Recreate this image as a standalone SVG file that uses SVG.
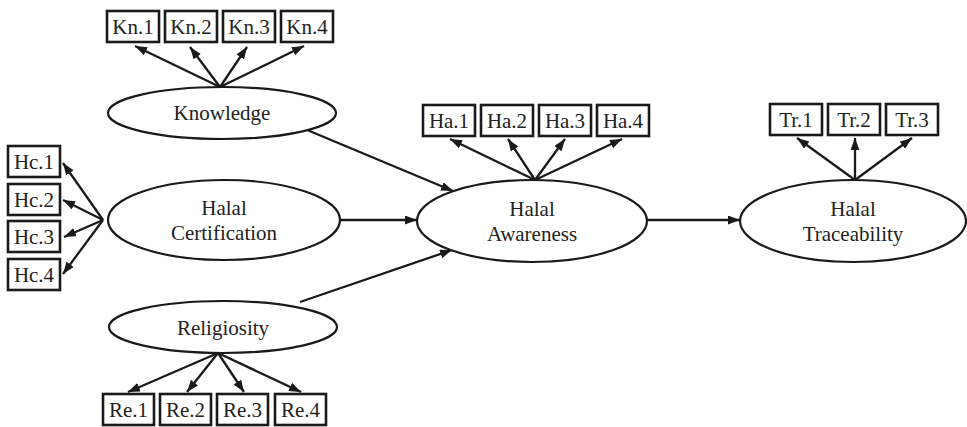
<svg xmlns="http://www.w3.org/2000/svg" width="967" height="427" viewBox="0 0 967 427">
<style>
.bg{fill:#ffffff}
.box{fill:#ffffff;stroke:#1a1a1a;stroke-width:2.6}
.ell{fill:#ffffff;stroke:#1a1a1a;stroke-width:2.2}
.lbl{font-family:"Liberation Serif","Times New Roman",serif;font-size:21px;fill:#222222;text-anchor:middle}
.con line{stroke:#1a1a1a;stroke-width:2.3;marker-end:url(#ah)}
</style>
<defs>
<marker id="ah" markerUnits="userSpaceOnUse" markerWidth="13" markerHeight="10" refX="12" refY="4.5" orient="auto">
<path d="M0,0 L12,4.5 L0,9 z" fill="#1a1a1a"/>
</marker>
</defs>
<rect class="bg" x="0" y="0" width="967" height="427"/>
<g id="connectors" class="con">
<line x1="220" y1="87" x2="135" y2="46"/>
<line x1="220" y1="87" x2="190" y2="47"/>
<line x1="220" y1="87" x2="247" y2="47"/>
<line x1="220" y1="87" x2="304" y2="46"/>
<line x1="103" y1="220" x2="63" y2="163"/>
<line x1="103" y1="220" x2="63" y2="200"/>
<line x1="103" y1="220" x2="64" y2="237"/>
<line x1="103" y1="220" x2="63" y2="274"/>
<line x1="218" y1="353" x2="128" y2="392"/>
<line x1="218" y1="353" x2="187" y2="392"/>
<line x1="218" y1="353" x2="244" y2="392"/>
<line x1="218" y1="353" x2="301" y2="392"/>
<line x1="535" y1="180" x2="450" y2="139"/>
<line x1="535" y1="180" x2="508" y2="139"/>
<line x1="535" y1="180" x2="565" y2="139"/>
<line x1="535" y1="180" x2="622" y2="139"/>
<line x1="855" y1="180" x2="797" y2="138"/>
<line x1="855" y1="180" x2="855" y2="138"/>
<line x1="855" y1="180" x2="912" y2="138"/>
<line x1="300" y1="127" x2="453" y2="191"/>
<line x1="340" y1="220" x2="417" y2="220"/>
<line x1="300" y1="302" x2="452" y2="250"/>
<line x1="647" y1="220" x2="740" y2="220"/>
</g>
<g id="knowledge"><ellipse class="ell" cx="222" cy="113" rx="114" ry="26"/><text class="lbl" x="222" y="120">Knowledge</text></g>
<g id="certification"><ellipse class="ell" cx="224" cy="220" rx="116" ry="40"/><text class="lbl" x="224" y="215">Halal</text><text class="lbl" x="224" y="240">Certification</text></g>
<g id="religiosity"><ellipse class="ell" cx="223" cy="327" rx="114" ry="26"/><text class="lbl" x="223" y="335">Religiosity</text></g>
<g id="awareness"><ellipse class="ell" cx="532" cy="221" rx="115" ry="41"/><text class="lbl" x="532" y="216">Halal</text><text class="lbl" x="532" y="241">Awareness</text></g>
<g id="traceability"><ellipse class="ell" cx="853" cy="221" rx="113" ry="41"/><text class="lbl" x="853" y="216">Halal</text><text class="lbl" x="853" y="241">Traceability</text></g>
<g id="kn1"><rect class="box" x="107" y="11" width="52" height="31"/><text class="lbl" x="133" y="34">Kn.1</text></g>
<g id="kn2"><rect class="box" x="165" y="11" width="52" height="31"/><text class="lbl" x="191" y="34">Kn.2</text></g>
<g id="kn3"><rect class="box" x="223" y="11" width="52" height="31"/><text class="lbl" x="249" y="34">Kn.3</text></g>
<g id="kn4"><rect class="box" x="281" y="11" width="52" height="31"/><text class="lbl" x="307" y="34">Kn.4</text></g>
<g id="hc1"><rect class="box" x="8" y="146" width="52" height="31"/><text class="lbl" x="34" y="169">Hc.1</text></g>
<g id="hc2"><rect class="box" x="8" y="184" width="52" height="31"/><text class="lbl" x="34" y="207">Hc.2</text></g>
<g id="hc3"><rect class="box" x="8" y="221" width="52" height="31"/><text class="lbl" x="34" y="244">Hc.3</text></g>
<g id="hc4"><rect class="box" x="8" y="259" width="52" height="31"/><text class="lbl" x="34" y="282">Hc.4</text></g>
<g id="re1"><rect class="box" x="103" y="394" width="51" height="31"/><text class="lbl" x="128.5" y="417">Re.1</text></g>
<g id="re2"><rect class="box" x="160" y="394" width="51" height="31"/><text class="lbl" x="185.5" y="417">Re.2</text></g>
<g id="re3"><rect class="box" x="217" y="394" width="51" height="31"/><text class="lbl" x="242.5" y="417">Re.3</text></g>
<g id="re4"><rect class="box" x="275" y="394" width="51" height="31"/><text class="lbl" x="300.5" y="417">Re.4</text></g>
<g id="ha1"><rect class="box" x="423" y="105" width="52" height="31"/><text class="lbl" x="449" y="128">Ha.1</text></g>
<g id="ha2"><rect class="box" x="481" y="105" width="52" height="31"/><text class="lbl" x="507" y="128">Ha.2</text></g>
<g id="ha3"><rect class="box" x="539" y="105" width="52" height="31"/><text class="lbl" x="565" y="128">Ha.3</text></g>
<g id="ha4"><rect class="box" x="597" y="105" width="52" height="31"/><text class="lbl" x="623" y="128">Ha.4</text></g>
<g id="tr1"><rect class="box" x="770" y="104" width="52" height="31"/><text class="lbl" x="796" y="127">Tr.1</text></g>
<g id="tr2"><rect class="box" x="828" y="104" width="52" height="31"/><text class="lbl" x="854" y="127">Tr.2</text></g>
<g id="tr3"><rect class="box" x="886" y="104" width="52" height="31"/><text class="lbl" x="912" y="127">Tr.3</text></g>
</svg>
